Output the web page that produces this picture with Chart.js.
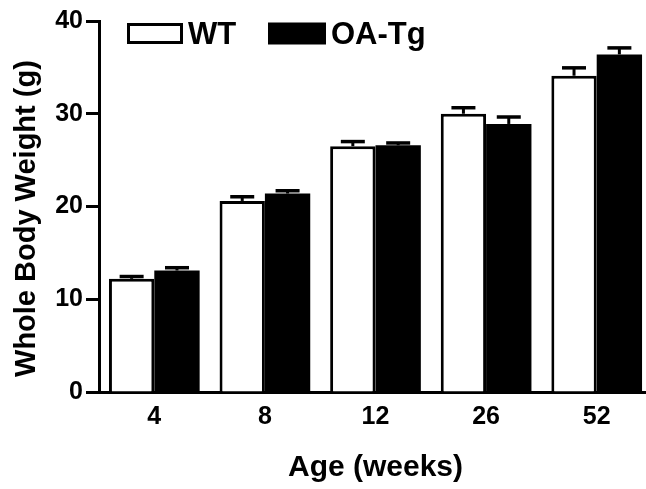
<!DOCTYPE html>
<html>
<head>
<meta charset="utf-8">
<title>Whole Body Weight</title>
<script src="https://cdn.jsdelivr.net/npm/chart.js@4.4.1/dist/chart.umd.min.js"></script>
<style>
    html, body { margin: 0; padding: 0; background: #fff; overflow: hidden; }
    #wrap { width: 660px; height: 489px; }
</style>
</head>
<body>
<div id="wrap"><canvas id="weightChart" width="660" height="489"></canvas></div>
<script>
// ============================================================================
// Data
// ============================================================================

const ageWeeks = ['4', '8', '12', '26', '52'];
const wtMean = [12.2, 20.6, 26.5, 30.0, 34.1];
const wtErr = [0.25, 0.45, 0.5, 0.65, 0.85];
const tgMean = [13.1, 21.4, 26.6, 28.9, 36.4];
const tgErr = [0.3, 0.3, 0.25, 0.75, 0.7];
const yTicks = [0, 10, 20, 30, 40];

const FONT = '"Liberation Sans", Arial, Helvetica, sans-serif';

// ============================================================================
// Plugins
// ============================================================================

// Upper SEM bars drawn on top of each bar
const errorBars = {
    id: 'errorBars',
    afterDatasetsDraw(chart) {
        const ctx = chart.ctx;
        const y = chart.scales.y;
        chart.data.datasets.forEach((ds, i) => {
            const meta = chart.getDatasetMeta(i);
            meta.data.forEach((bar, j) => {
                const top = y.getPixelForValue(ds.data[j] + ds.errors[j]);
                ctx.save();
                ctx.strokeStyle = '#000';
                ctx.lineWidth = 3;
                ctx.beginPath();
                ctx.moveTo(bar.x, bar.y);
                ctx.lineTo(bar.x, top);
                ctx.stroke();
                ctx.lineWidth = 3.5;
                ctx.beginPath();
                ctx.moveTo(bar.x - 12, top);
                ctx.lineTo(bar.x + 12, top);
                ctx.stroke();
                ctx.restore();
            });
        });
    }
};

// Legend in the upper-left, like the original figure
const boxLegend = {
    id: 'boxLegend',
    afterDraw(chart) {
        const ctx = chart.ctx;
        ctx.save();
        ctx.font = 'bold 31px ' + FONT;
        ctx.textBaseline = 'alphabetic';

        // WT: open box
        ctx.fillStyle = '#fff';
        ctx.fillRect(127, 23, 56, 21);
        ctx.strokeStyle = '#000';
        ctx.lineWidth = 3;
        ctx.strokeRect(128.5, 24.5, 53, 18);
        ctx.fillStyle = '#000';
        ctx.fillText('WT', 188, 44);

        // OA-Tg: filled box
        ctx.fillRect(268, 22.5, 58, 22);
        ctx.fillText('OA-Tg', 331, 44);
        ctx.restore();
    }
};

// ============================================================================
// Chart
// ============================================================================

function renderChart() {
    const ctx = document.getElementById('weightChart');

    new Chart(ctx, {
        type: 'bar',
        data: {
            labels: ageWeeks,
            datasets: [{
                label: 'WT',
                data: wtMean,
                errors: wtErr,
                backgroundColor: '#ffffff',
                borderColor: '#000000',
                borderWidth: 3,
                borderSkipped: 'bottom'
            }, {
                label: 'OA-Tg',
                data: tgMean,
                errors: tgErr,
                backgroundColor: '#000000',
                borderColor: '#000000',
                borderWidth: 0
            }]
        },
        options: {
            responsive: false,
            animation: false,
            devicePixelRatio: 1,
            layout: { padding: { left: 0, top: 21, right: 8, bottom: 0 } },
            datasets: {
                bar: { categoryPercentage: 0.82, barPercentage: 1.0 }
            },
            plugins: {
                legend: { display: false },
                tooltip: { enabled: false }
            },
            scales: {
                x: {
                    afterFit: scale => { scale.height = 97; },
                    grid: { display: true, drawOnChartArea: false, drawTicks: false },
                    border: { display: true, color: '#000', width: 3 },
                    ticks: {
                        color: '#000',
                        padding: 10,
                        font: { family: FONT, size: 25, weight: 'bold' }
                    },
                    title: {
                        display: true,
                        text: 'Age (weeks)',
                        color: '#000',
                        padding: { top: 0, bottom: 3 },
                        font: { family: FONT, size: 30, weight: 'bold' }
                    }
                },
                y: {
                    min: 0,
                    max: 40,
                    afterFit: scale => { scale.width = 99; },
                    afterBuildTicks: scale => {
                        scale.ticks = yTicks.map(v => ({ value: v }));
                    },
                    grid: {
                        drawOnChartArea: false,
                        drawTicks: true,
                        tickLength: 13,
                        tickWidth: 3,
                        tickColor: '#000'
                    },
                    border: { display: true, color: '#000', width: 3 },
                    ticks: {
                        color: '#000',
                        padding: 3,
                        font: { family: FONT, size: 25, weight: 'bold' }
                    },
                    title: {
                        display: true,
                        // trailing spaces nudge the centred title down, as in the figure
                        text: 'Whole Body Weight (g)   ',
                        color: '#000',
                        padding: { top: 10, bottom: 0 },
                        font: { family: FONT, size: 29, weight: 'bold' }
                    }
                }
            }
        },
        plugins: [errorBars, boxLegend]
    });
}

document.addEventListener('DOMContentLoaded', renderChart);
</script>
</body>
</html>
